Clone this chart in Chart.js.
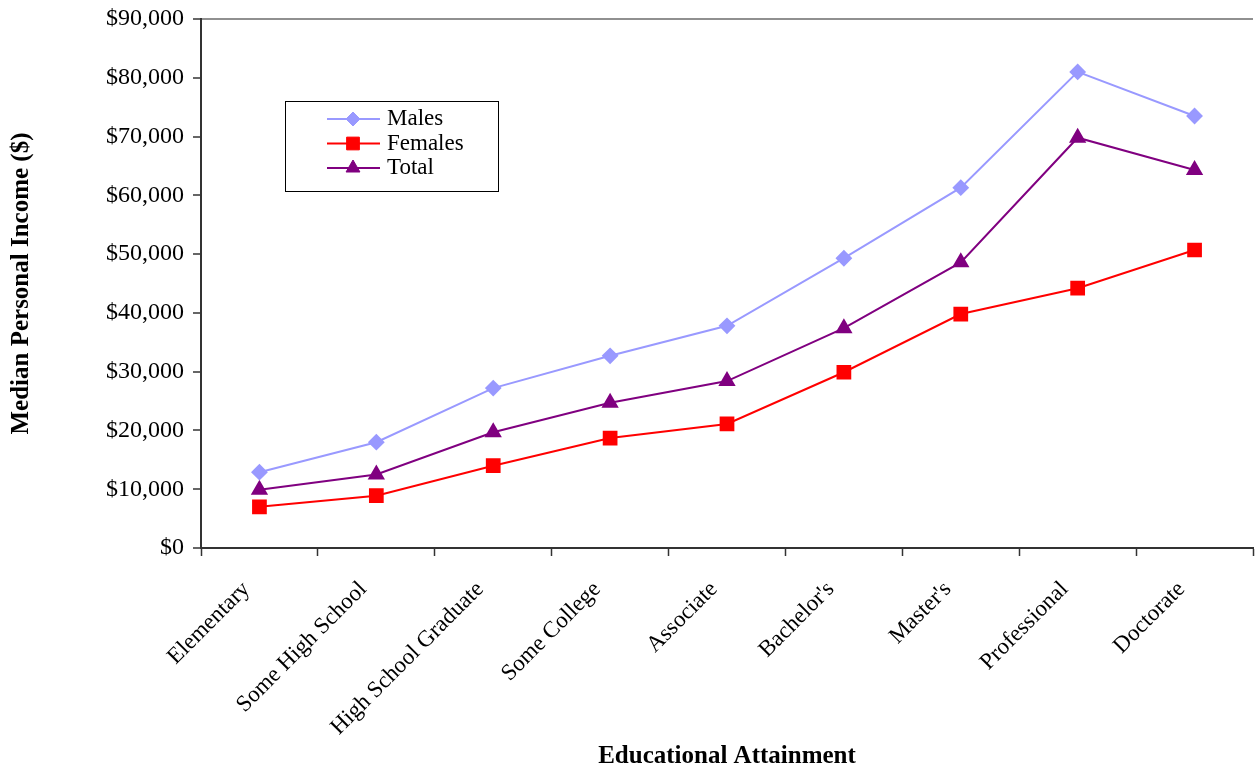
<!DOCTYPE html>
<html>
<head>
<meta charset="utf-8">
<script src="https://cdn.jsdelivr.net/npm/chart.js@4.4.1/dist/chart.umd.min.js"></script>
<style>
  html, body { margin: 0; padding: 0; background: #ffffff; overflow: hidden; }
  #wrap { width: 1255px; height: 769px; position: relative; overflow: hidden; }
  canvas { display: block; }
</style>
</head>
<body>
<div id="wrap"><canvas id="c" width="1255" height="769"></canvas></div>
<script>
const categories = ["Elementary", "Some High School", "High School Graduate", "Some College", "Associate", "Bachelor's", "Master's", "Professional", "Doctorate"];
const males   = [12900, 18000, 27200, 32700, 37800, 49300, 61300, 81000, 73500];
const females = [7000, 8900, 14000, 18700, 21100, 29900, 39800, 44200, 50700];
const total   = [9900, 12500, 19700, 24700, 28400, 37400, 48600, 69800, 64300];
const seriesNames = ["Males", "Females", "Total"];
const yTicks = [0, 10000, 20000, 30000, 40000, 50000, 60000, 70000, 80000, 90000];
const xTitle = "Educational Attainment";
const yTitle = "Median Personal Income ($)";

const SERIF = "'Liberation Serif', 'Times New Roman', serif";

const boxLegend = {
  id: 'boxLegend',
  afterDraw(chart) {
    const ctx = chart.ctx;
    const ca = chart.chartArea;
    const x0 = ca.left + 84, y0 = ca.top + 82, w = 213, h = 90;
    ctx.save();
    ctx.fillStyle = '#ffffff';
    ctx.fillRect(x0, y0, w, h);
    ctx.strokeStyle = '#000000';
    ctx.lineWidth = 1;
    ctx.strokeRect(x0 + 0.5, y0 + 0.5, w, h);
    chart.data.datasets.forEach((ds, i) => {
      const cy = y0 + 18 + i * 24.5;
      ctx.strokeStyle = ds.borderColor;
      ctx.lineWidth = 2;
      ctx.beginPath();
      ctx.moveTo(x0 + 42, cy);
      ctx.lineTo(x0 + 95, cy);
      ctx.stroke();
      ctx.fillStyle = ds.pointBackgroundColor;
      ctx.strokeStyle = ds.pointBorderColor;
      ctx.lineWidth = 1;
      Chart.helpers.drawPoint(ctx, {pointStyle: ds.pointStyle, radius: ds.pointRadius, borderWidth: 1, rotation: 0}, x0 + 68, cy);
      ctx.fillStyle = '#000000';
      ctx.font = "23px " + SERIF;
      ctx.textBaseline = 'middle';
      ctx.textAlign = 'left';
      ctx.fillText(ds.label, x0 + 102, cy);
    });
    ctx.restore();
  }
};

new Chart(document.getElementById('c'), {
  type: 'line',
  data: {
    labels: categories,
    datasets: [
      { label: seriesNames[0], data: males, borderColor: '#9999FF', backgroundColor: '#9999FF',
        pointBackgroundColor: '#9999FF', pointBorderColor: '#9999FF', pointStyle: 'rectRot', pointRadius: 7, borderWidth: 2, tension: 0 },
      { label: seriesNames[1], data: females, borderColor: '#FF0000', backgroundColor: '#FF0000',
        pointBackgroundColor: '#FF0000', pointBorderColor: '#FF0000', pointStyle: 'rect', pointRadius: 9, borderWidth: 2, tension: 0 },
      { label: seriesNames[2], data: total, borderColor: '#800080', backgroundColor: '#800080',
        pointBackgroundColor: '#800080', pointBorderColor: '#800080', pointStyle: 'triangle', pointRadius: 8, borderWidth: 2, tension: 0 }
    ]
  },
  options: {
    responsive: false,
    devicePixelRatio: 1,
    animation: false,
    layout: { autoPadding: false, padding: { top: 19, right: 2, left: 0, bottom: 0 } },
    plugins: { legend: { display: false }, tooltip: { enabled: false } },
    scales: {
      x: {
        type: 'category',
        offset: true,
        grid: { offset: true, drawOnChartArea: false, drawTicks: true, tickLength: 8, tickColor: '#333333', tickWidth: 1.5 },
        border: { display: true, color: '#333333', width: 2 },
        ticks: { color: '#000000', font: { family: SERIF, size: 23 }, minRotation: 45, maxRotation: 45, padding: 20, labelOffset: -13, autoSkip: false },
        title: { display: true, text: xTitle, color: '#000000', font: { family: SERIF, size: 25, weight: 'bold', lineHeight: 1 }, padding: { top: 0, bottom: 0 } },
        afterFit(scale) { scale.height = 221; scale.paddingRight = 0; scale.paddingLeft = 0; }
      },
      y: {
        min: 0, max: 90000,
        afterBuildTicks(scale) { scale.ticks = yTicks.map(v => ({ value: v })); },
        grid: {
          drawOnChartArea: true, drawTicks: true, tickLength: 8, tickColor: '#333333', tickWidth: 1.5,
          color: (c) => (c.tick && c.tick.value === 90000 ? '#909090' : 'rgba(0,0,0,0)'),
          lineWidth: 2
        },
        border: { display: true, color: '#333333', width: 2 },
        ticks: { color: '#000000', font: { family: SERIF, size: 24 }, padding: 9,
          callback: (v) => '$' + Number(v).toLocaleString('en-US') },
        title: { display: true, text: yTitle, color: '#000000', font: { family: SERIF, size: 25, weight: 'bold', lineHeight: 1 }, padding: { top: 9, bottom: 0 } },
        afterFit(scale) { scale.width = 201; scale.paddingTop = 0; scale.paddingBottom = 0; }
      }
    }
  },
  plugins: [boxLegend]
});
</script>
</body>
</html>
